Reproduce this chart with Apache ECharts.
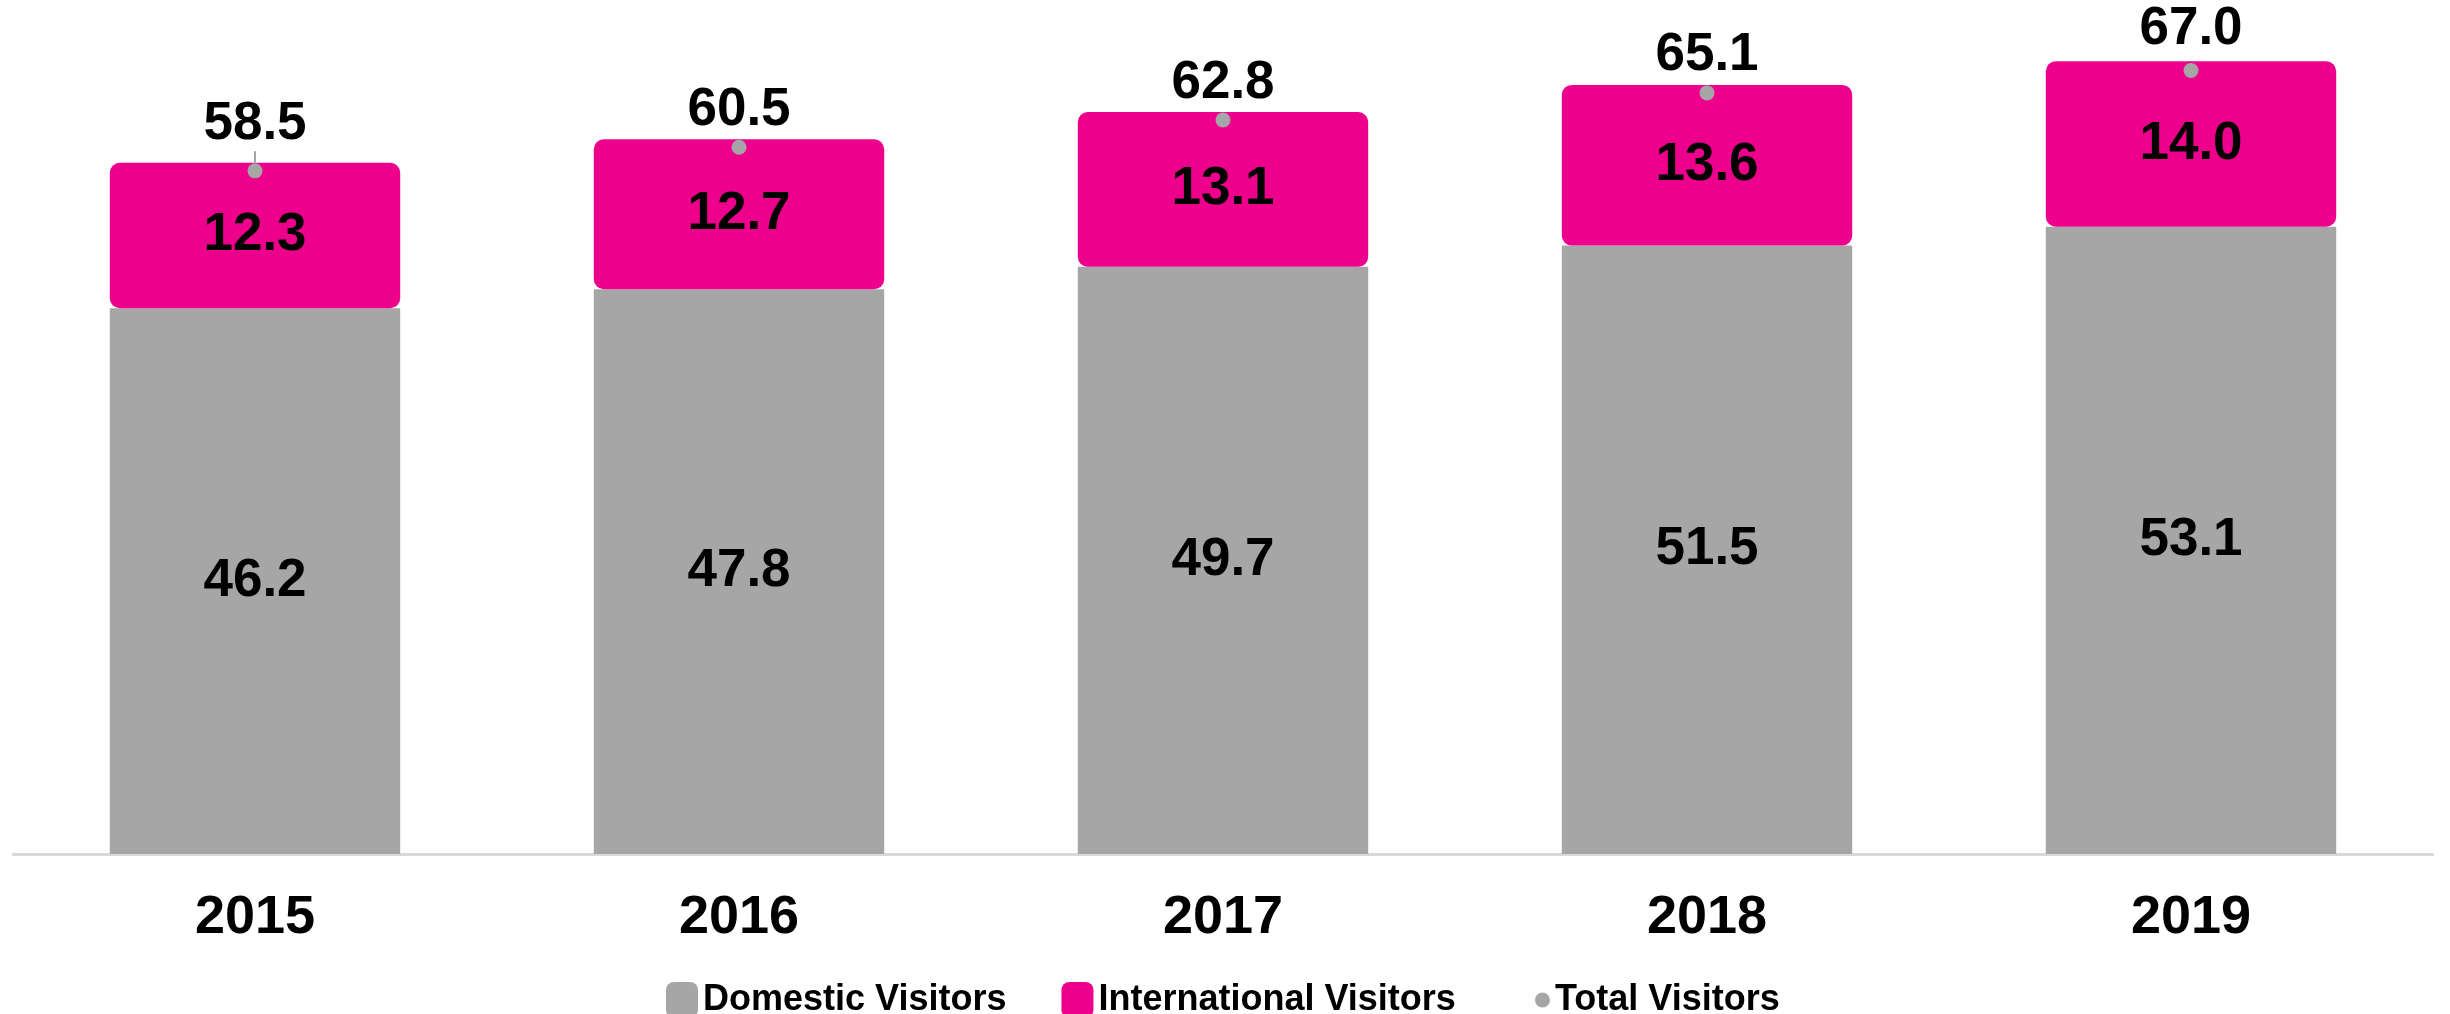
<!DOCTYPE html>
<html>
<head>
<meta charset="utf-8">
<script src="https://cdn.jsdelivr.net/npm/echarts@6/dist/echarts.min.js"></script>
<style>
  html, body { margin: 0; padding: 0; background: #ffffff; }
  #main { width: 2450px; height: 1014px; }
</style>
</head>
<body>
<div id="main"></div>
<script>
var years = ["2015", "2016", "2017", "2018", "2019"];
var domestic = [46.2, 47.8, 49.7, 51.5, 53.1];
var international = [12.3, 12.7, 13.1, 13.6, 14.0];
var total = [58.5, 60.5, 62.8, 65.1, 67.0];

var grey = "#a6a6a6";
var pink = "#ec008c";
var font = "'Liberation Sans', Arial, sans-serif";

function initializeChart() {
    var chart = echarts.init(document.getElementById("main"));

    var valueLabel = {
        show: true,
        position: "inside",
        color: "#000",
        fontFamily: font,
        fontWeight: "bold",
        fontSize: 53,
        formatter: function (p) {
            return p.value.toFixed(1);
        },
    };

    var legendText = {
        fontFamily: font,
        fontWeight: "bold",
        fontSize: 36,
        color: "#000",
    };

    // only the first total label gets a leader line (it is pushed up a bit)
    var totalData = total.map(function (v, i) {
        return i === 0 ? { value: v, labelLine: { show: true } } : { value: v };
    });

    var options = {
        animation: false,
        grid: {
            left: 13,
            right: 17,
            top: 27,
            bottom: 160,
        },
        legend: [{
            left: 661,
            top: 977,
            itemWidth: 32,
            itemHeight: 36,
            itemGap: 55,
            textStyle: legendText,
            data: [
                { name: "Domestic Visitors", icon: "roundRect" },
                { name: "International Visitors", icon: "roundRect" },
            ],
        }, {
            left: 1530,
            top: 977,
            itemWidth: 15,
            itemHeight: 15,
            textStyle: legendText,
            data: [{ name: "Total Visitors", icon: "circle" }],
        }],
        xAxis: {
            type: "category",
            data: years,
            axisTick: { show: false },
            axisLine: {
                lineStyle: { color: "#d9d9d9", width: 3 },
            },
            axisLabel: {
                margin: 37,
                color: "#000",
                fontFamily: font,
                fontWeight: "bold",
                fontSize: 54,
            },
        },
        yAxis: {
            type: "value",
            min: 0,
            max: 70,
            show: false,
            splitLine: { show: false },
        },
        series: [{
            name: "Domestic Visitors",
            type: "bar",
            stack: "visitors",
            barCategoryGap: "40%",
            itemStyle: { color: grey },
            label: valueLabel,
            data: domestic,
        }, {
            name: "International Visitors",
            type: "bar",
            stack: "visitors",
            itemStyle: { color: pink, borderRadius: 10 },
            label: valueLabel,
            data: international,
        }, {
            name: "Total Visitors",
            type: "scatter",
            symbol: "circle",
            symbolSize: 15,
            symbolOffset: [0, 8],
            z: 5,
            itemStyle: { color: grey, opacity: 1 },
            label: {
                show: true,
                position: "top",
                distance: 3,
                color: "#000",
                fontFamily: font,
                fontWeight: "bold",
                fontSize: 53,
                formatter: function (p) {
                    return p.value.toFixed(1);
                },
            },
            labelLine: {
                show: false,
                minTurnAngle: 0,
                lineStyle: { color: grey, width: 2 },
            },
            labelLayout: function (p) {
                if (p.dataIndex === 0) return { dy: -9 };
                if (p.dataIndex === 4) return { dy: -4 };
                return {};
            },
            data: totalData,
        }],
    };

    chart.setOption(options);

    window.onresize = function () {
        chart.resize();
    };
}

initializeChart();
</script>
</body>
</html>
